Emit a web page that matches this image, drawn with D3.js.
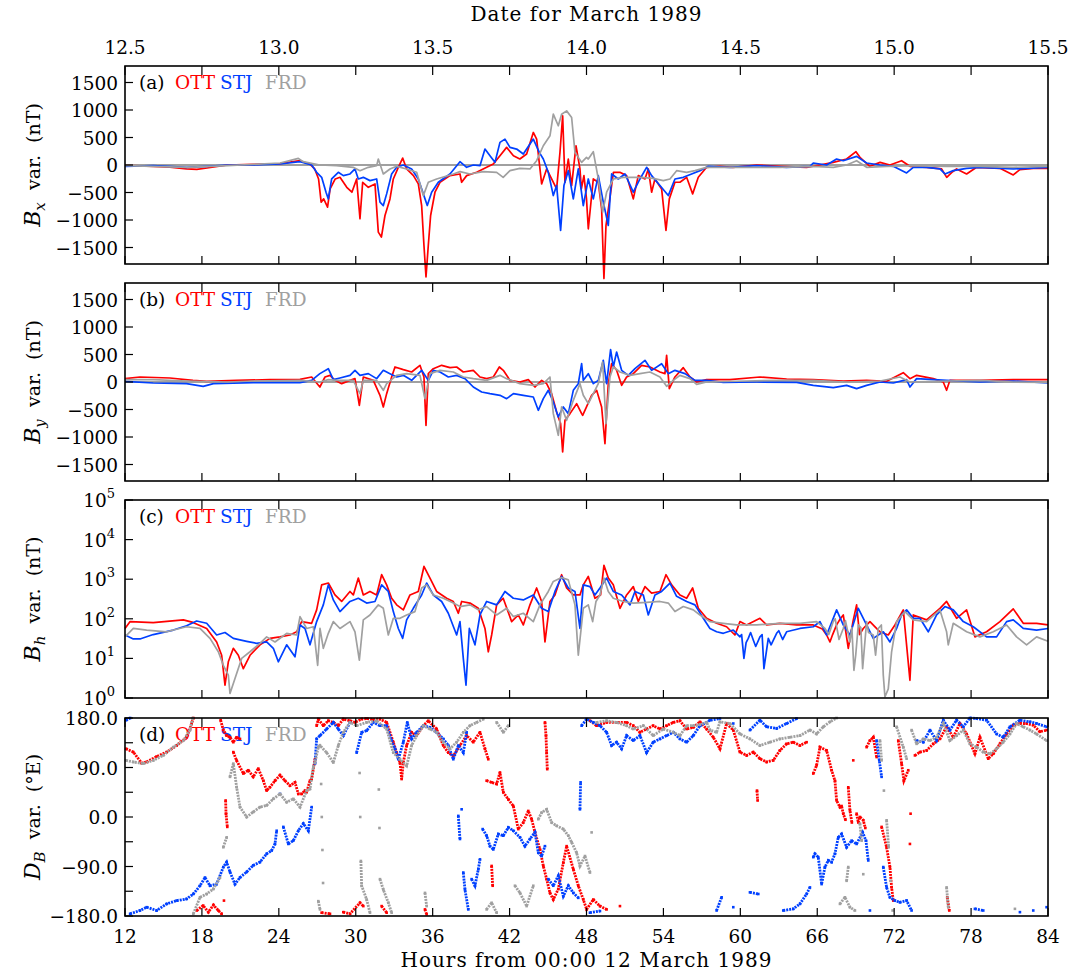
<!DOCTYPE html>
<html>
<head>
<meta charset="utf-8">
<script src="https://cdn.jsdelivr.net/npm/d3@7"></script>
<style>
  body { margin: 0; background: #fff; }
  svg { display: block; }
  text { font-family: "DejaVu Serif", serif; fill: #000; white-space: pre; }
</style>
</head>
<body>
<svg id="chart" width="1087" height="974"></svg>
<script>
// ---- tick labels ----
var hourTicks = [12, 18, 24, 30, 36, 42, 48, 54, 60, 66, 72, 78, 84];
var dateTicks = [12, 24, 36, 48, 60, 72, 84];
var dateLabels = ["12.5", "13.0", "13.5", "14.0", "14.5", "15.0", "15.5"];
var bTicks = [-1500, -1000, -500, 0, 500, 1000, 1500];
var bhExponents = [0, 1, 2, 3, 4, 5];
var dTicks = [-180, -135, -90, -45, 0, 45, 90, 135, 180];
var dLabels = {"-180": "\u2212180.0", "-90": "\u221290.0", "0": "0.0", "90": "90.0", "180": "180.0"};
var stations = ["OTT", "STJ", "FRD"];
var panelNames = ["(a)", "(b)", "(c)", "(d)"];

// ---- panel (a): Bx variation, nT, [hour, value] ----
var ottBx = [[12,-12],[13.2,-15],[14.2,-24],[15.5,-40],[16.8,-72],[17.6,-78],[18.4,-54],[20,0],[22,12],[24.1,24],[25.65,78],[26.4,18],[26.8,-72],[27.1,-254],[27.3,-676],[27.5,-616],[27.8,-767],[28.0,-435],[28.4,-254],[28.77,-224],[29.3,-405],[29.7,-495],[30.07,-254],[30.33,-978],[30.54,-314],[30.98,-405],[31.5,-344],[31.76,-1220],[32.0,-1310],[32.28,-918],[32.67,-616],[32.93,-254],[33.32,-42],[33.66,127],[33.97,-72],[34.5,-193],[34.88,-344],[35.14,-737],[35.32,-1460],[35.48,-2035],[35.66,-1460],[35.84,-918],[36.18,-495],[36.57,-314],[37.35,-193],[38.13,-163],[38.26,-314],[38.65,-193],[39.43,-133],[40.21,-42],[40.73,18],[41.25,169],[41.77,320],[42.3,169],[42.8,109],[43.33,200],[43.85,592],[44.11,471],[44.5,-344],[44.89,-72],[45.28,-254],[45.67,-435],[45.93,230],[46.14,894],[46.32,-314],[46.58,109],[46.84,-374],[47.18,350],[47.49,-72],[47.6,-435],[47.8,-193],[48.0,-616],[48.14,-1160],[48.53,-254],[48.92,-314],[49.18,-797],[49.36,-2065],[49.52,-1100],[49.78,-676],[50.1,-133],[50.6,-133],[51.13,-193],[51.65,-616],[52.04,-193],[52.56,-254],[52.82,-72],[53.08,-495],[53.34,-254],[53.86,-435],[54.2,-1190],[54.46,-616],[54.9,-314],[55.29,-314],[55.81,-224],[56.28,-525],[56.72,-224],[57.37,-42],[58.4,-24],[59.45,-42],[61.27,0],[63.1,-24],[65.17,-42],[66.2,0],[67.25,48],[68.29,109],[69.02,242],[69.33,139],[70.1,-24],[70.9,48],[71.67,0],[72.58,78],[73.23,-24],[74.53,-42],[75.7,-72],[76.1,-224],[76.5,-133],[76.87,-72],[77.65,-163],[78.43,-42],[80.25,-60],[81.29,-181],[81.8,-85],[82.85,-60],[84,-60]];
var stjBx = [[12,-24],[14.2,-12],[16.8,-42],[18.4,-24],[20,0],[22,0],[24.1,18],[25.65,60],[26.56,0],[26.95,-133],[27.34,-224],[27.68,-495],[27.86,-616],[28.12,-254],[28.64,-133],[29.03,-193],[29.55,-163],[29.94,-72],[30.2,-254],[30.59,-224],[31.11,-284],[31.63,-254],[31.89,-676],[32.15,-737],[32.41,-525],[32.8,-163],[33.19,-42],[33.71,0],[34.36,-72],[34.88,-254],[35.27,-525],[35.58,-737],[35.92,-495],[36.44,-314],[37.35,-163],[38.13,60],[38.65,-42],[39.17,0],[39.69,-12],[40.08,290],[40.47,169],[40.86,48],[41.25,411],[41.64,471],[42.03,320],[42.55,290],[43.07,200],[43.85,471],[44.32,230],[44.63,109],[45.02,-133],[45.41,-556],[45.67,-374],[45.98,-1190],[46.24,-374],[46.58,-103],[46.97,-616],[47.36,-72],[47.75,-737],[48.14,-254],[48.53,-616],[48.92,-193],[49.31,-676],[49.7,-1100],[49.96,-163],[50.48,-254],[51.0,-163],[51.65,-495],[52.17,-254],[52.69,-42],[53.08,-193],[53.73,-374],[54.38,-556],[54.9,-254],[55.55,-224],[56.2,-163],[56.85,-103],[57.5,-24],[59.19,-42],[61.27,-12],[63.61,-42],[65.43,-24],[65.69,36],[66.73,0],[67.51,109],[68.03,78],[69.07,157],[69.85,36],[70.9,0],[71.93,-24],[72.97,-145],[73.49,-42],[74.53,-42],[75.57,-72],[75.96,-163],[76.61,-103],[77.65,-60],[78.69,-42],[81.29,-72],[84,-42]];
var frdBx = [[12,-12],[14.2,-24],[16.8,-42],[20,-12],[24.1,36],[25.52,121],[25.9,60],[27.2,0],[28.5,-12],[29.8,-42],[30.33,-103],[30.98,-42],[31.63,-12],[31.76,109],[32.15,-163],[32.67,-72],[33.19,-24],[33.97,-72],[34.75,-133],[35.27,-556],[35.66,-314],[36.31,-254],[37.61,-163],[38.13,-121],[38.91,-163],[39.95,-121],[40.99,-133],[41.5,-224],[42.03,-103],[42.8,-60],[43.59,-72],[44.11,78],[44.63,350],[45.15,531],[45.41,924],[45.8,713],[46.06,924],[46.45,984],[46.84,864],[47.1,230],[47.62,48],[48.0,139],[48.14,109],[48.53,242],[48.92,-254],[49.26,-858],[49.57,-495],[50.1,-254],[50.87,-224],[52.17,-224],[53.21,-242],[53.99,-284],[54.51,-254],[55.03,-103],[55.81,-133],[56.46,-103],[57.37,-42],[59.19,-42],[63.1,-42],[65.69,-24],[67.25,-42],[68.29,0],[69.07,78],[69.85,-42],[71.41,-24],[73.49,-12],[76.1,-24],[78.69,-24],[81.29,-42],[84,-24]];

// ---- panel (b): By variation, nT ----
var ottBy = [[12,61],[13.17,91],[15.5,73],[17.3,30],[18.37,12],[20.71,30],[23.31,42],[25.65,48],[26.56,91],[27.2,-91],[27.6,91],[27.99,121],[28.38,30],[28.9,-30],[29.55,30],[29.94,61],[30.28,-424],[30.59,91],[31.37,30],[31.89,-242],[32.15,-454],[32.41,-212],[32.8,91],[33.06,273],[33.71,224],[34.36,182],[35.01,303],[35.32,91],[35.48,-788],[35.66,152],[36.05,242],[36.7,303],[37.35,261],[37.87,273],[38.39,182],[39.17,212],[39.69,91],[40.21,61],[40.73,91],[41.2,273],[41.51,212],[42.03,30],[42.8,0],[43.46,42],[43.98,-91],[44.5,30],[44.89,-30],[45.28,-212],[45.67,-545],[45.98,-757],[46.14,-1272],[46.32,-697],[46.71,-575],[47.23,-394],[47.62,-575],[47.7,-606],[48.0,-454],[48.4,-242],[48.79,-151],[49.18,-454],[49.44,-1121],[49.7,-30],[49.96,333],[50.35,212],[50.74,-61],[51.13,91],[51.65,152],[52.3,303],[52.95,273],[53.73,182],[54.12,152],[54.25,485],[54.46,-121],[54.9,91],[55.55,261],[56.07,91],[56.59,0],[57.37,42],[59.19,42],[61.53,91],[63.61,55],[65.69,42],[68.03,18],[69.85,30],[71.41,12],[72.71,170],[73.23,61],[73.75,121],[75.05,61],[75.83,0],[76.09,-151],[76.35,30],[77.39,30],[78.69,30],[81.29,42],[84,42]];
var stjBy = [[12,12],[14.2,-18],[16.8,-30],[18.1,-79],[18.9,-30],[22,-12],[25.65,-12],[26.56,30],[27.2,152],[27.86,242],[28.25,42],[28.77,73],[29.55,121],[29.94,212],[30.33,121],[30.98,152],[31.63,61],[32.15,212],[32.67,152],[33.19,91],[33.71,121],[34.36,30],[35.14,212],[35.66,30],[36.05,212],[36.57,182],[37.22,91],[37.87,121],[38.52,61],[39.17,-91],[39.82,-182],[40.47,-212],[41.25,-242],[41.77,-303],[42.3,-212],[43.07,-242],[43.85,-273],[44.24,-515],[44.63,-303],[45.02,-151],[45.41,-363],[45.8,-636],[46.19,-454],[46.58,-575],[46.97,-151],[47.36,-30],[47.62,333],[47.75,30],[48.14,152],[48.53,-30],[48.92,30],[49.31,394],[49.57,-30],[49.88,588],[50.09,273],[50.35,545],[50.74,212],[51.26,121],[51.78,242],[52.56,394],[53.08,212],[53.86,333],[54.38,152],[54.9,212],[55.68,152],[56.46,30],[57.37,30],[58.67,-6],[61.27,0],[64.39,-6],[65.69,-61],[67.25,-103],[68.29,-61],[69.07,-121],[69.85,-61],[70.9,0],[71.93,-18],[72.97,42],[73.23,-91],[73.75,61],[76.09,30],[78.69,0],[81.29,18],[84,-18]];
var frdBy = [[12,42],[14.2,42],[16.8,18],[20,0],[22,18],[25.65,30],[27.2,0],[27.86,42],[28.5,30],[29.8,30],[30.33,-212],[30.59,30],[31.63,30],[32.15,-151],[32.41,-30],[33.19,121],[33.97,152],[35.01,121],[35.4,-303],[35.79,152],[36.57,212],[37.61,182],[38.39,91],[39.17,61],[40.21,30],[41.25,121],[41.77,61],[42.8,-30],[43.85,-61],[44.63,-30],[45.15,91],[45.41,-575],[45.8,-969],[46.06,-454],[46.45,-697],[46.97,-333],[47.49,-30],[47.75,-242],[48.14,-394],[48.53,-212],[48.92,-30],[49.26,364],[49.52,-757],[49.83,91],[50.09,273],[50.61,182],[51.39,121],[52.17,152],[52.95,182],[53.73,91],[54.25,-79],[54.77,30],[55.29,121],[56.07,61],[56.59,-42],[57.37,0],[60.49,18],[63.1,30],[65.69,30],[68.29,0],[70.9,18],[72.45,91],[73.23,0],[76.09,18],[78.69,30],[81.29,0],[84,-6]];

// ---- panel (c): Bh variation, nT (log) ----
var ottBh = [[12,57],[12.4,85],[14.2,80],[16.55,94],[17.3,81],[18.37,57],[19.15,26],[19.54,12],[19.8,2.1],[20.06,8.2],[20.45,18],[20.84,12],[21.23,5.5],[21.75,12],[22.53,22],[23.31,32],[24.09,35],[24.87,39],[25.39,47],[25.78,85],[26.56,77],[26.95,168],[27.34,720],[27.86,800],[28.38,400],[28.9,274],[29.55,490],[29.81,400],[30.2,1070],[30.59,400],[31.11,490],[31.63,400],[32.02,1300],[32.41,720],[32.8,330],[33.19,225],[33.71,168],[34.23,400],[34.88,490],[35.32,2100],[35.79,1070],[36.31,490],[37.09,330],[37.61,274],[38.0,138],[38.26,274],[38.91,250],[39.56,184],[40.08,57],[40.34,14.7],[40.6,39],[40.99,225],[41.5,330],[42.16,85],[42.68,125],[43.07,70],[43.59,225],[44.11,600],[44.5,274],[44.76,26],[45.15,274],[45.54,400],[46.06,1300],[46.45,600],[46.97,400],[47.49,400],[47.75,720],[48.14,1170],[48.66,330],[49.1,400],[49.36,2240],[49.7,1070],[50.09,720],[50.61,184],[51.13,400],[51.65,650],[52.04,274],[52.56,650],[53.08,445],[53.73,490],[54.2,1300],[54.64,720],[55.29,400],[55.81,330],[56.28,600],[56.72,184],[57.37,103],[58.15,77],[58.93,63],[59.58,39],[59.97,85],[60.49,70],[61.53,103],[62.05,70],[63.09,77],[64.39,70],[65.69,70],[66.4,55],[66.73,39],[66.99,26],[67.2,40],[67.51,70],[67.8,100],[68.03,125],[68.42,18],[68.8,90],[69.07,225],[69.3,40],[69.59,57],[70.11,85],[70.89,47],[71.54,39],[72.06,70],[72.71,168],[73.23,2.8],[73.49,125],[74.53,94],[75.57,184],[76.09,274],[76.87,103],[77.65,168],[78.3,35],[79.21,47],[80.25,85],[81.29,178],[82.07,77],[83.11,77],[84,70]];
var stjBh = [[12,39],[12.65,31],[13.17,31],[14.2,40],[15.77,52],[16.8,67],[17.59,88],[18.37,77],[19.15,39],[19.8,45],[20.45,32],[21.49,27],[22.27,24],[23.05,26],[23.57,18],[23.96,8.2],[24.61,22],[25.26,11],[25.65,70],[26.04,57],[26.43,22],[26.95,85],[27.47,225],[27.86,720],[28.25,300],[28.77,152],[29.55,274],[30.2,330],[30.85,250],[31.5,274],[32.02,720],[32.54,490],[32.93,152],[33.32,57],[33.66,32],[33.97,94],[34.49,184],[35.14,400],[35.53,800],[36.05,400],[36.7,274],[37.22,138],[37.87,39],[38.13,85],[38.39,10],[38.6,2.1],[38.86,57],[39.3,22],[39.69,125],[40.21,274],[40.99,225],[41.64,490],[42.29,330],[43.07,300],[43.85,400],[44.5,184],[45.02,152],[45.54,490],[46.06,1170],[46.58,600],[47.1,490],[47.49,57],[47.75,720],[48.27,650],[48.66,400],[49.05,600],[49.57,1070],[50.09,490],[50.74,400],[51.39,225],[51.78,490],[52.43,400],[52.82,125],[53.34,400],[53.86,490],[54.51,800],[55.03,370],[55.81,274],[56.46,225],[57.11,103],[57.63,57],[58.15,47],[58.67,43],[59.45,52],[59.97,35],[60.1,40],[60.28,10],[60.45,25],[60.62,32],[60.8,45],[61.01,29],[61.2,20],[61.53,35],[61.7,40],[61.84,5.5],[62.18,32],[62.4,22],[62.83,43],[63.0,50],[63.3,30],[63.61,47],[64.65,57],[65.69,63],[66.21,85],[66.73,39],[67.51,168],[68.03,70],[68.55,39],[69.2,184],[69.72,85],[70.37,32],[71.15,47],[71.67,26],[72.19,57],[72.58,125],[72.97,168],[73.49,103],[74.01,103],[74.66,47],[75.31,125],[75.96,204],[76.61,168],[77.39,85],[78.17,63],[79.21,35],[79.99,35],[80.77,85],[81.29,94],[82.07,57],[83.11,52],[84,57]];
var frdBh = [[12,35],[12.65,57],[13.69,52],[15.25,47],[16.8,63],[17.85,57],[18.63,32],[19.28,14.7],[19.67,6.7],[20.06,3.8],[20.19,1.3],[20.58,3.1],[21.1,10],[21.75,14.7],[22.53,24],[23.05,35],[23.7,26],[24.61,43],[25.39,39],[25.65,114],[26.17,57],[26.69,63],[27.03,6.7],[27.21,57],[27.47,18],[27.86,43],[28.25,85],[28.77,57],[29.55,85],[29.94,47],[30.28,9],[30.59,94],[31.11,125],[31.76,225],[32.15,184],[32.54,39],[32.93,103],[33.45,103],[33.97,125],[34.62,152],[35.14,600],[35.53,720],[36.05,400],[36.83,330],[37.61,250],[38.13,204],[38.91,225],[39.56,168],[40.21,204],[40.99,125],[41.77,184],[42.29,114],[43.07,138],[43.85,85],[44.37,225],[45.02,490],[45.41,880],[46.06,1100],[46.58,960],[47.1,225],[47.36,12],[47.75,184],[48.14,225],[48.48,85],[48.74,274],[49.05,400],[49.36,1070],[49.7,490],[50.09,330],[50.87,274],[51.65,250],[52.69,260],[53.73,274],[54.38,250],[54.9,152],[55.55,204],[56.33,168],[56.85,125],[57.63,85],[58.67,77],[59.71,70],[61.27,70],[63.09,77],[64.65,77],[65.95,85],[66.6,57],[66.9,40],[67.25,85],[67.4,100],[67.7,30],[68.03,57],[68.2,90],[68.55,26],[68.7,60],[68.86,5],[69.0,12],[69.2,70],[69.4,60],[69.54,5.5],[69.85,85],[70.0,45],[70.37,39],[70.55,12],[70.76,57],[71.0,70],[71.15,3.8],[71.28,1.06],[71.54,1.7],[71.8,14.7],[72.19,85],[72.84,152],[73.49,94],[74.53,85],[75.57,168],[76.09,47],[76.22,22],[76.61,77],[77.65,47],[78.69,35],[79.73,47],[80.77,70],[81.55,35],[82.33,22],[83.11,35],[84,27]];

// ---- panel (d): DB variation, degrees East, as traces of [hour, angle] ----
var ottDB = [
  [[12.08,124],[12.65,118],[13.3,98],[13.69,100],[14.47,110],[15.25,118],[16.03,130],[16.8,145],[17.2,170],[17.33,180]],
  [[17.6,-170],[18.1,-161],[18.5,-173],[18.9,-160],[19.28,-170],[19.54,-176]],
  [[19.46,176],[19.67,158],[19.93,148],[20.19,145],[20.45,136],[20.7,145],[20.97,142]],
  [[19.72,-152],[19.85,30],[19.88,6],[19.98,-18]],
  [[20.45,118],[20.7,103],[21.23,79],[21.62,85],[22.0,73],[22.4,88],[22.79,66],[23.05,48],[23.3,54],[23.7,66],[24.09,76],[24.48,66],[24.87,57],[25.26,63],[25.52,42],[25.78,42],[26.04,48],[26.17,45],[26.43,66],[26.56,69],[26.82,105],[26.95,166],[27.08,178]],
  [[27.08,178],[27.47,166],[27.86,175],[28.25,172],[28.64,166],[29.03,178],[29.55,175],[29.94,172],[30.46,178],[30.85,179],[31.37,177],[31.89,178],[32.41,172],[32.93,136],[33.19,117],[33.45,99],[33.58,69],[33.71,99],[33.97,130],[34.36,154],[34.75,148],[35.27,166],[35.66,175],[36.31,160],[36.83,130],[37.22,117],[37.61,111],[38.13,130],[38.65,148],[39.17,136],[39.69,154],[40.08,124],[40.34,105]],
  [[27.34,-174],[27.99,-176],[29.03,-173],[29.55,-176],[30.33,-156],[30.59,-162],[32.02,-162],[32.41,-174],[35.4,-168],[35.53,-177]],
  [[40.21,66],[40.6,63],[40.99,60],[41.25,81],[41.51,45],[41.9,32],[42.29,20],[42.68,-22],[43.07,-10],[43.46,11],[43.72,-4],[43.98,-28],[44.37,-59],[44.63,-89],[44.89,-113],[45.15,-138],[45.41,-150],[45.8,-131],[46.19,-83],[46.45,-53],[46.97,-95],[47.36,-125],[47.75,-150],[48.01,-168],[48.53,-150],[49.05,-162],[49.57,-168],[50.61,-162]],
  [[40.6,-89],[40.68,-125],[44.76,172],[44.84,148],[44.89,117],[44.94,87]],
  [[48.27,175],[48.79,166],[49.57,172],[50.35,172],[51.13,172],[51.65,166],[52.17,154],[52.69,160],[53.2,166],[53.73,160],[54.25,166],[54.77,172],[55.29,175],[55.81,160],[56.33,163],[56.85,173],[57.37,160],[57.89,145],[58.41,124],[58.93,170],[59.45,158],[59.97,118],[60.49,112],[61.01,118],[61.53,106],[62.05,100],[62.57,103],[63.09,121],[63.61,133],[64.13,136],[64.65,130],[65.17,136],[65.69,79],[65.95,94],[66.21,127],[66.73,121],[67.12,85],[67.38,66],[67.51,30],[67.77,18],[67.9,20],[68.03,6],[68.2,-5],[68.42,54],[68.55,12],[68.7,-10],[68.81,103],[69.07,6],[69.2,-10],[69.33,0],[69.59,-6],[69.75,-20]],
  [[61.3,48],[61.35,30]],
  [[69.85,127],[70.11,139],[70.37,145],[70.63,109]],
  [[71.02,-18],[71.41,-55],[71.67,-91],[71.8,-128],[71.93,-152]],
  [[72.32,139],[72.58,97],[72.76,66],[73.1,85],[73.23,-49],[73.28,6]],
  [[73.62,112],[74.01,118],[74.53,121],[75.05,133],[75.57,142],[76.09,164],[76.61,145],[77.13,170],[77.65,151],[78.3,115],[78.69,145],[79.34,106],[79.73,115],[80.25,133],[80.77,151],[81.29,167],[81.81,170],[82.33,170],[82.85,167],[83.37,155],[83.89,158]],
  [[76.14,-146],[76.3,-170]]
];
var stjDB = [
  [[12.08,176],[12.4,180]],
  [[12.4,-176],[13.17,-170],[13.69,-164],[14.47,-170],[15.25,-158],[16.03,-152],[16.8,-149],[17.33,-140],[17.85,-125],[18.24,-110],[18.63,-125],[19.15,-122],[19.67,-91],[19.93,-82],[20.19,-100],[20.58,-122],[20.97,-110],[21.49,-100],[22.0,-88],[22.53,-82],[23.05,-67],[23.44,-61],[23.7,-49],[23.83,-25],[24.09,42],[24.35,-18],[24.74,-49],[25.13,-43],[25.52,-25],[25.91,-12],[26.3,-25],[26.56,18],[26.82,97],[26.95,142],[27.21,148],[27.73,160],[28.25,172],[28.64,160],[29.03,148],[29.55,172],[30.07,117],[30.46,154],[30.85,157],[31.37,172],[31.89,166],[32.41,166],[32.8,139],[33.06,124],[33.32,105],[33.71,136],[34.02,172],[34.36,142],[34.75,154],[35.27,166],[35.79,163],[36.31,154],[36.83,142],[37.22,130],[37.61,105],[38.0,130],[38.39,117],[38.65,154]],
  [[38.0,2],[38.13,-40],[38.26,14],[38.39,-101],[38.52,-132],[38.78,-168],[39.04,-113],[39.3,-125],[39.56,-95],[39.69,-77],[39.9,-22],[40.21,-34],[40.47,-53],[40.73,-59],[41.12,-31],[41.51,-34],[41.9,-19],[42.29,-25],[42.81,-37],[43.2,-53],[43.59,-40],[43.98,-28],[44.24,-65],[44.5,-71],[44.76,-53],[45.02,-113],[45.41,-125],[45.8,-107],[46.19,-144],[46.58,-125],[46.97,-138],[47.36,-147]],
  [[47.49,14],[47.54,63],[48.27,-174],[49.05,-171]],
  [[47.62,166],[48.01,178],[48.53,172],[49.05,166],[49.57,154],[49.96,130],[50.35,136],[50.74,124],[51.13,148],[51.65,139],[52.17,148],[52.69,117],[53.2,136],[53.73,142],[54.25,148],[54.77,154],[55.29,142],[55.81,136],[56.33,148],[56.85,166],[57.37,172],[57.63,176],[58.41,179],[59.45,170],[60.75,158],[61.53,176],[62.05,164],[62.83,161],[63.61,170],[64.39,179]],
  [[58.15,-170],[58.54,-146],[59.45,-164],[60.75,-137],[61.4,-140],[63.35,-170],[64.13,-167],[64.65,-158],[65.17,-140],[65.43,-128],[65.69,-73],[65.82,-67],[66.08,-73],[66.34,-122],[66.6,-91],[66.86,-79],[67.12,-82],[67.38,-67],[67.64,-37],[67.9,-31],[68.29,-55],[68.68,-43],[69.07,-49],[69.54,-28],[69.8,-43],[69.98,-79],[70.11,-170]],
  [[70.63,139],[70.84,103],[71.02,73]],
  [[71.15,-91],[71.41,-128],[71.67,-146],[72.06,-152],[72.45,-155],[72.97,-152],[73.36,-170]],
  [[73.75,139],[74.27,136],[74.79,158],[75.31,139],[75.83,176],[76.35,158],[76.87,176],[77.39,164],[77.91,180],[78.43,179],[79.21,176],[79.99,151],[80.51,145],[81.03,164],[81.81,176],[82.59,173],[83.11,170],[83.89,164]],
  [[78.3,-167],[78.95,-170],[81.81,-173],[82.85,-170],[83.89,-164]]
];
var frdDB = [
  [[12.08,103],[12.65,100],[13.43,97],[14.21,103],[14.99,112],[15.77,127],[16.55,139],[17.07,158],[17.28,180]],
  [[17.33,-176],[17.85,-146],[18.37,-140],[18.89,-131],[19.41,-110],[19.67,-55],[19.93,-37],[20.19,73],[20.45,97],[20.71,54],[20.97,18],[21.49,0],[22.0,9],[22.53,18],[23.05,21],[23.57,33],[24.09,42],[24.61,27],[25.13,33],[25.65,18],[26.17,48],[26.43,51],[26.69,91],[26.82,99],[27.08,127],[27.21,130],[27.73,117],[28.25,99],[28.64,130],[29.03,154],[29.55,172],[30.07,166],[30.85,172],[31.63,175],[32.41,160],[32.93,117],[33.45,105],[33.97,93],[34.36,130],[34.75,148],[35.27,166],[35.79,160],[36.31,154],[36.83,136],[37.35,124],[37.87,136],[38.39,154],[38.91,166],[39.43,172],[39.95,178]],
  [[40.99,172],[41.51,154],[41.9,166]],
  [[27.08,-153],[27.21,-168],[27.3,60],[27.35,0],[27.4,-60],[27.45,-120]],
  [[30.3,80],[30.35,0],[30.4,-80],[30.46,-125],[30.85,-150],[31.11,-174]],
  [[31.8,50],[31.85,-20],[31.89,-113],[32.15,-132],[32.54,-156],[32.8,-174]],
  [[35.4,-138],[35.53,-162]],
  [[40.21,-168],[40.6,-156],[40.99,-174]],
  [[42.42,-125],[42.81,-138],[43.33,-162],[43.85,-125]],
  [[44.24,-4],[44.5,8],[44.89,14],[45.28,-10],[45.67,-16],[46.19,-22],[46.58,-34],[46.84,-46],[47.23,-65],[47.49,-89],[47.88,-71],[48.27,-101],[48.4,-28]],
  [[48.79,172],[49.57,175],[50.35,172],[51.13,166],[51.65,160],[52.43,166],[53.2,148],[53.99,160],[54.77,154],[55.29,148],[55.81,166],[56.33,166],[56.85,168],[57.37,172],[57.63,158],[58.15,154],[58.41,173],[59.19,170],[59.97,151],[60.75,142],[61.53,130],[62.31,136],[63.09,142],[63.87,145],[64.65,148],[65.43,158],[65.95,151],[66.47,164],[66.99,173],[67.51,180]],
  [[67.77,-158],[68.16,-146],[68.55,-164],[68.94,-170]],
  [[68.29,-116],[68.42,-91],[69.33,-12],[69.46,-43],[69.59,-104]],
  [[70.89,139],[71.02,103],[71.2,48],[71.41,-6],[71.57,-55],[71.72,-116],[71.88,-170]],
  [[72.19,164],[72.71,127],[72.97,106],[73.36,158],[73.75,133],[74.27,142],[74.79,139],[75.31,145],[75.83,170],[76.35,139],[76.87,148],[77.39,158],[77.91,133],[78.43,127],[78.95,118],[79.47,115],[79.99,124],[80.51,136],[81.03,151],[81.55,170],[82.07,164],[82.59,158],[83.11,151],[83.89,139]],
  [[76.09,-128],[76.22,-164],[81.42,-167]]
];

// ---- layout ----
var colors = ["#ff0000", "#0040ff", "#a0a0a0"];
var left = 125, right = 1048, panelH = 198;
var panelTop = [66, 283, 500, 718];
var tickFont = 18.5, titleFont = 20;

var svg = d3.select("#chart");
var x = d3.scaleLinear().domain([12, 84]).range([left, right]);

function Panel(i, y) {
  this.top = panelTop[i];
  this.bottom = panelTop[i] + panelH;
  this.y = y;
  this.g = svg.append("g");

  // panel tag and station names
  var tag = this.g.append("g").attr("font-size", 18.5);
  tag.append("text").attr("x", 139).attr("y", this.top + 23).text(panelNames[i]);
  var lx = [175, 220, 265];
  stations.forEach(function(s, k) {
    tag.append("text").attr("x", lx[k]).attr("y", this.top + 23)
      .style("fill", colors[k]).text(s);
  }.bind(this));

  this.frame = function() {
    this.g.append("rect")
      .attr("x", left).attr("y", this.top)
      .attr("width", right - left).attr("height", panelH)
      .attr("fill", "none").attr("stroke", "#000").attr("stroke-width", 1.6);

    hourTicks.forEach(function(h) {
      this.g.append("line").attr("x1", x(h)).attr("x2", x(h))
        .attr("y1", this.bottom).attr("y2", this.bottom - 8)
        .attr("stroke", "#000").attr("stroke-width", 1.2);
      this.g.append("line").attr("x1", x(h)).attr("x2", x(h))
        .attr("y1", this.top).attr("y2", this.top + 9)
        .attr("stroke", "#000").attr("stroke-width", 1.2);
    }.bind(this));
  };

  this.yTicks = function(values, label) {
    values.forEach(function(v) {
      var yy = this.y(v);
      this.g.append("line").attr("x1", left).attr("x2", left + 8)
        .attr("y1", yy).attr("y2", yy)
        .attr("stroke", "#000").attr("stroke-width", 1.2);
      if (label) label(this.g, v, yy);
    }.bind(this));
  };

  this.zeroLine = function() {
    this.g.append("line").attr("x1", left).attr("x2", right)
      .attr("y1", this.y(0)).attr("y2", this.y(0))
      .attr("stroke", "#a0a0a0").attr("stroke-width", 2);
  };

  this.lines = function(series) {
    var line = d3.line().x(function(d) { return x(d[0]); })
      .y(function(d) { return this.y(d[1]); }.bind(this));
    series.forEach(function(s, k) {
      var pts = s.slice().sort(function(a, b) { return a[0] - b[0]; });
      this.g.append("path").datum(pts).attr("d", line)
        .attr("fill", "none").attr("stroke", colors[k])
        .attr("stroke-width", 1.7).attr("stroke-linejoin", "round");
    }.bind(this));
  };

  this.dots = function(series) {
    var line = d3.line().x(function(d) { return x(d[0]); })
      .y(function(d) { return this.y(d[1]); }.bind(this));
    series.forEach(function(traces, k) {
      traces.forEach(function(tr) {
        // join neighbouring samples only when they are close in time and angle
        var segs = [], cur = [tr[0]];
        for (var j = 1; j < tr.length; j++) {
          var p = tr[j - 1], q = tr[j];
          if (q[0] - p[0] <= 0.8 && q[0] >= p[0] && Math.abs(q[1] - p[1]) <= 50) cur.push(q);
          else { segs.push(cur); cur = [q]; }
        }
        segs.push(cur);
        segs.forEach(function(sg) {
          if (sg.length < 2) return;
          this.g.append("path").datum(sg).attr("d", line)
            .attr("fill", "none").attr("stroke", colors[k])
            .attr("stroke-width", 2.8).attr("stroke-dasharray", "2 1");
        }.bind(this));
        this.g.selectAll(null).data(tr).enter().append("rect")
          .attr("x", function(d) { return x(d[0]) - 1.3; })
          .attr("y", function(d) { return this.y(d[1]) - 1.3; }.bind(this))
          .attr("width", 2.6).attr("height", 2.6)
          .attr("fill", colors[k]);
      }.bind(this));
    }.bind(this));
  };

  this.yTitle = function(sym, sub, unit) {
    var t = this.g.append("text")
      .attr("transform", "translate(40," + (this.top + panelH / 2) + ") rotate(-90)")
      .attr("text-anchor", "middle").attr("font-size", 19);
    t.append("tspan").style("font-style", "italic").attr("font-size", 22).text(sym);
    t.append("tspan").style("font-style", "italic").attr("font-size", 15).attr("dy", 5).text(sub);
    t.append("tspan").attr("dy", -5).text("\u00a0\u00a0var.\u00a0\u00a0(" + unit + ")");
  };
}

function plainLabel(g, v, yy) {
  g.append("text").attr("x", 118).attr("y", yy + 7)
    .attr("text-anchor", "end").attr("font-size", tickFont)
    .text(v < 0 ? "\u2212" + (-v) : String(v));
}

// (a) Bx
var pa = new Panel(0, d3.scaleLinear().domain([-1800, 1800]).range([panelTop[0] + panelH, panelTop[0]]));
pa.zeroLine();
pa.lines([ottBx, stjBx, frdBx]);
pa.frame();
pa.yTicks(bTicks, plainLabel);
pa.yTitle("B", "x", "nT");

// (b) By
var pb = new Panel(1, d3.scaleLinear().domain([-1800, 1800]).range([panelTop[1] + panelH, panelTop[1]]));
pb.zeroLine();
pb.lines([ottBy, stjBy, frdBy]);
pb.frame();
pb.yTicks(bTicks, plainLabel);
pb.yTitle("B", "y", "nT");

// (c) Bh, log scale
var pc = new Panel(2, d3.scaleLog().domain([1, 1e5]).range([panelTop[2] + panelH, panelTop[2]]));
pc.lines([ottBh, stjBh, frdBh]);
pc.frame();
pc.yTicks(bhExponents.map(function(e) { return Math.pow(10, e); }), function(g, v, yy) {
  var t = g.append("text").attr("x", 115).attr("y", yy + 7)
    .attr("text-anchor", "end").attr("font-size", tickFont);
  t.append("tspan").text("10");
  t.append("tspan").attr("dy", -9).attr("font-size", 13).text(String(Math.round(Math.log10(v))));
});
pc.yTitle("B", "h", "nT");

// (d) DB direction
var pd = new Panel(3, d3.scaleLinear().domain([-180, 180]).range([panelTop[3] + panelH, panelTop[3]]));
pd.dots([ottDB, stjDB, frdDB]);
pd.frame();
pd.yTicks(dTicks, function(g, v, yy) {
  var s = dLabels[String(v)];
  if (!s) return;
  g.append("text").attr("x", 118).attr("y", yy + 7)
    .attr("text-anchor", "end").attr("font-size", tickFont).text(s);
});
pd.yTitle("D", "B", "\u00b0E");

// top axis: dates
svg.selectAll(".dlab").data(dateTicks).enter().append("text")
  .attr("x", function(h) { return x(h); }).attr("y", 54)
  .attr("text-anchor", "middle").attr("font-size", tickFont)
  .text(function(h, i) { return dateLabels[i]; });
svg.append("text").attr("x", (left + right) / 2).attr("y", 21)
  .attr("text-anchor", "middle").attr("font-size", titleFont)
  .attr("letter-spacing", 1).text("Date for March 1989");

// bottom axis: hours
svg.selectAll(".hlab").data(hourTicks).enter().append("text")
  .attr("x", function(h) { return x(h); }).attr("y", 943)
  .attr("text-anchor", "middle").attr("font-size", tickFont)
  .text(function(h) { return h; });
svg.append("text").attr("x", (left + right) / 2).attr("y", 967)
  .attr("text-anchor", "middle").attr("font-size", titleFont)
  .attr("letter-spacing", 1).text("Hours from 00:00 12 March 1989");
</script>
</body>
</html>
